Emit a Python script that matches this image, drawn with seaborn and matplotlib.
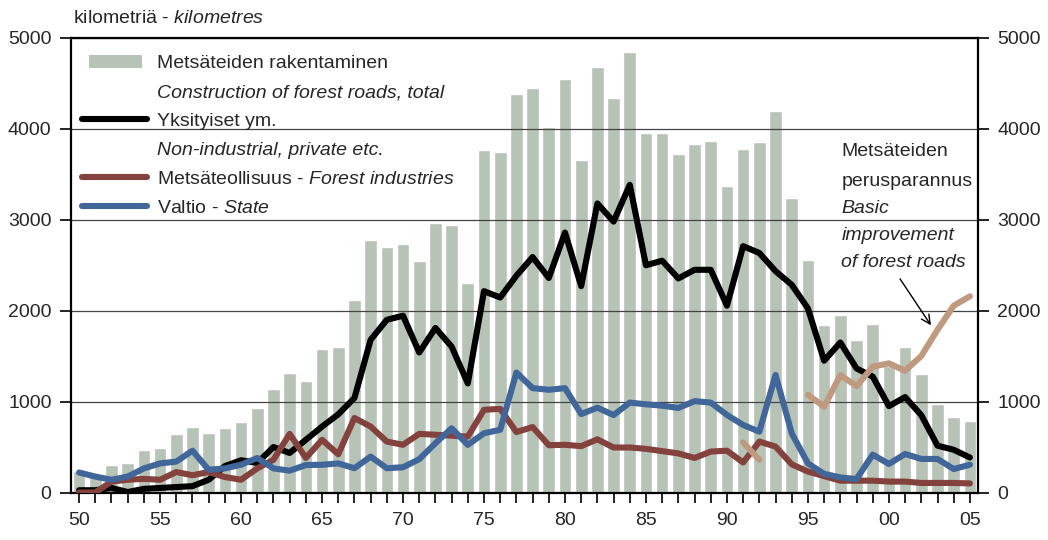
import numpy as np
import pandas as pd
import seaborn as sns
import matplotlib.pyplot as plt
from matplotlib.lines import Line2D
from matplotlib.patches import Patch, Rectangle
from matplotlib.legend_handler import HandlerPatch

# Forest road construction in Finland, km per year 1950-2005
years = list(range(1950, 2006))
total = [240, 180, 305, 330, 470, 485, 640, 725, 650, 705,
         780, 935, 1135, 1310, 1230, 1575, 1600, 2115, 2775, 2705,
         2730, 2545, 2965, 2940, 2310, 3770, 3745, 4385, 4450, 4025,
         4550, 3660, 4685, 4340, 4850, 3960, 3960, 3720, 3830, 3865,
         3370, 3780, 3855, 4195, 3235, 2555, 1845, 1955, 1680, 1855,
         1390, 1605, 1305, 975, 830, 785]
private = [25, 25, 50, 5, 40, 50, 60, 70, 140, 290,
           355, 325, 500, 435, 580, 725, 860, 1040, 1680, 1900,
           1945, 1540, 1810, 1605, 1200, 2215, 2145, 2385, 2590, 2360,
           2860, 2270, 3180, 2980, 3385, 2500, 2550, 2355, 2450, 2450,
           2055, 2710, 2635, 2435, 2285, 2025, 1450, 1650, 1365, 1275,
           950, 1050, 850, 515, 470, 385]
industry = [0, 0, 120, 140, 150, 140, 225, 190, 225, 170,
            140, 265, 360, 645, 380, 580, 420, 820, 725, 560,
            525, 645, 635, 625, 615, 910, 920, 665, 720, 520,
            525, 510, 585, 495, 495, 480, 455, 430, 380, 450,
            460, 330, 560, 505, 310, 230, 180, 130, 130, 130,
            120, 120, 105, 105, 105, 100]
state = [220, 175, 140, 175, 265, 320, 340, 460, 250, 265,
         305, 380, 265, 240, 302, 305, 320, 267, 395, 267,
         278, 366, 542, 707, 524, 652, 690, 1320, 1148, 1130,
         1148, 863, 933, 852, 989, 970, 955, 930, 1005, 989,
         853, 743, 669, 1294, 651, 320, 205, 166, 148, 417,
         314, 424, 369, 369, 258, 306]
basic_years_a = [1991, 1992]
basic_a = [550, 360]
basic_years_b = list(range(1995, 2006))
basic_b = [1075, 943, 1292, 1170, 1384, 1421, 1339, 1502, 1790, 2055, 2159]

tick_years = list(range(1950, 2006, 5))
tick_labels = ['50', '55', '60', '65', '70', '75', '80', '85', '90', '95', '00', '05']

BAR = '#b8c3b7'
RED = '#84423e'
BLUE = '#41669a'
TAN = '#bf9a80'
LW = 4.4

sns.set_style('white')
plt.rcParams['font.family'] = ['Liberation Sans', 'DejaVu Sans']
plt.rcParams['mathtext.fontset'] = 'custom'
plt.rcParams['mathtext.rm'] = 'Liberation Sans'
plt.rcParams['mathtext.it'] = 'Liberation Sans:italic'

fig = plt.figure(figsize=(10.48, 5.40), dpi=100)
ax = fig.add_axes([71 / 1048, 1 - 492.5 / 540, (978 - 71) / 1048, (492.5 - 38) / 540])

sns.barplot(x=years, y=total, native_scale=True, color=BAR, saturation=1,
            width=0.78, errorbar=None, ax=ax, zorder=1)

line_kw = dict(lw=LW, solid_capstyle='round', ax=ax, legend=False)
sns.lineplot(x=years, y=private, color='black', zorder=3, **line_kw)
sns.lineplot(x=years, y=industry, color=RED, zorder=3, **line_kw)
sns.lineplot(x=years, y=state, color=BLUE, zorder=3, **line_kw)
sns.lineplot(x=basic_years_a, y=basic_a, color=TAN, zorder=3, **line_kw)
sns.lineplot(x=basic_years_b, y=basic_b, color=TAN, zorder=3, **line_kw)

ax.set_xlim(1949.5, 2005.5)
ax.set_ylim(0, 5000)
ax.set_yticks(range(0, 5001, 1000))
lab = dict(zip(tick_years, tick_labels))
ax.set_xticks(years)
ax.set_xticklabels([lab.get(y, '') for y in years])
ax.set_xlabel('')
ax.set_ylabel('')

ax.set_axisbelow('line')
ax.yaxis.grid(True, color='#444444', lw=0.9)
ax.xaxis.grid(False)

ax.tick_params(axis='x', bottom=True, direction='out', length=7, width=1.2,
               labelsize=14, pad=7, color='black')
ax.tick_params(axis='y', left=True, right=True, labelleft=True, labelright=True,
               direction='out', length=8, width=1.2, labelsize=14, pad=6, color='black')
for s in ax.spines.values():
    s.set_visible(True)
    s.set_color('black')
    s.set_linewidth(1.6)

ax.text(0.002, 1.044, 'kilometriä - $\\mathit{kilometres}$', transform=ax.transAxes,
        fontsize=14, va='center', ha='left')


def bar_key(legend, orig_handle, xdescent, ydescent, width, height, fontsize):
    # narrower swatch than the line keys, like the original
    return Rectangle((-xdescent + 0.11 * width, -ydescent), 0.81 * width, height)


handles = [Patch(facecolor=BAR, edgecolor='none'),
           Line2D([], [], color='none'),
           Line2D([], [], color='black', lw=LW, solid_capstyle='round'),
           Line2D([], [], color='none'),
           Line2D([], [], color=RED, lw=LW, solid_capstyle='round'),
           Line2D([], [], color=BLUE, lw=LW, solid_capstyle='round')]
labels = ['Metsäteiden rakentaminen',
          'Construction of forest roads, total',
          'Yksityiset ym.',
          'Non-industrial, private etc.',
          'Metsäteollisuus - $\\mathit{Forest\\ industries}$',
          'Valtio - $\\mathit{State}$']
leg = ax.legend(handles, labels, loc='upper left', bbox_to_anchor=(-0.006, 1.0),
                frameon=False, fontsize=14, handlelength=3.35, handletextpad=0.5,
                labelspacing=0.58, borderaxespad=0.45, borderpad=0.4,
                handler_map={Patch: HandlerPatch(patch_func=bar_key)})
for i in (1, 3):
    leg.get_texts()[i].set_fontstyle('italic')

ax.text(1997.07, 3850, 'Metsäteiden\nperusparannus', fontsize=14,
        va='top', ha='left', linespacing=2.0)
ax.text(1997.07, 3215, 'Basic\nimprovement\nof forest roads', fontsize=14,
        va='top', ha='left', linespacing=1.75, fontstyle='italic')
ax.annotate('', xy=(2002.69, 1814), xytext=(2000.59, 2376),
            arrowprops=dict(arrowstyle='->', color='black', lw=1.0,
                            mutation_scale=16))

fig.savefig('out.png', dpi=100)
